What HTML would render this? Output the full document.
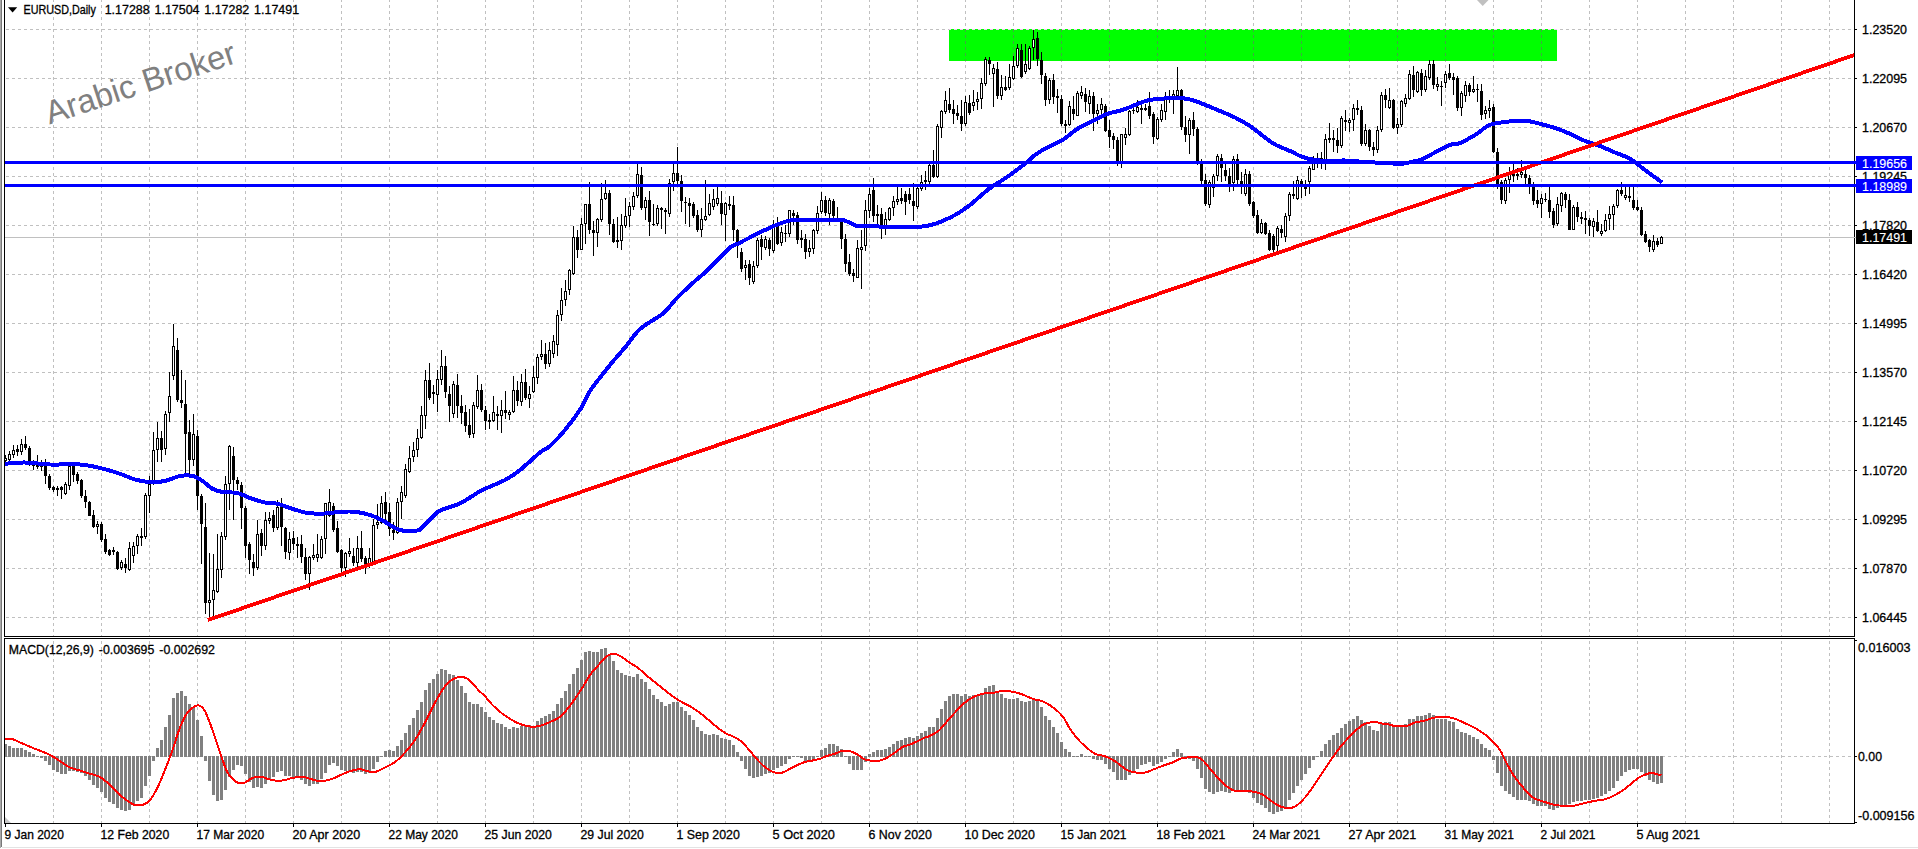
<!DOCTYPE html>
<html><head><meta charset="utf-8"><title>EURUSD Daily</title>
<style>html,body{margin:0;padding:0;background:#fff;overflow:hidden}svg text{white-space:pre;stroke:#000;stroke-width:.3px}svg text.w{stroke:#fff;stroke-width:.15px}svg text.wm{stroke:none}</style></head>
<body>
<svg width="1918" height="849" viewBox="0 0 1918 849" style="display:block" font-family="Liberation Sans, Arial, sans-serif" font-size="12.4">
<rect width="1918" height="849" fill="#fff"/>
<rect x="0" y="0" width="1" height="848" fill="#a8a8a8"/>
<rect x="1" y="0" width="1" height="847" fill="#787878"/>
<rect x="2" y="847" width="1916" height="1" fill="#e3e3e3"/>
<rect x="949" y="29" width="608" height="32" fill="#00ff00"/>
<g shape-rendering="crispEdges" stroke="#c0c0c0" stroke-width="1" stroke-dasharray="3 3">
<path d="M53.5 -1V636"/>
<path d="M53.5 641V823"/>
<path d="M101.5 -1V636"/>
<path d="M101.5 641V823"/>
<path d="M149.5 -1V636"/>
<path d="M149.5 641V823"/>
<path d="M197.5 -1V636"/>
<path d="M197.5 641V823"/>
<path d="M245.5 -1V636"/>
<path d="M245.5 641V823"/>
<path d="M293.5 -1V636"/>
<path d="M293.5 641V823"/>
<path d="M341.5 -1V636"/>
<path d="M341.5 641V823"/>
<path d="M389.5 -1V636"/>
<path d="M389.5 641V823"/>
<path d="M437.5 -1V636"/>
<path d="M437.5 641V823"/>
<path d="M485.5 -1V636"/>
<path d="M485.5 641V823"/>
<path d="M533.5 -1V636"/>
<path d="M533.5 641V823"/>
<path d="M581.5 -1V636"/>
<path d="M581.5 641V823"/>
<path d="M629.5 -1V636"/>
<path d="M629.5 641V823"/>
<path d="M677.5 -1V636"/>
<path d="M677.5 641V823"/>
<path d="M725.5 -1V636"/>
<path d="M725.5 641V823"/>
<path d="M773.5 -1V636"/>
<path d="M773.5 641V823"/>
<path d="M821.5 -1V636"/>
<path d="M821.5 641V823"/>
<path d="M869.5 -1V636"/>
<path d="M869.5 641V823"/>
<path d="M917.5 -1V636"/>
<path d="M917.5 641V823"/>
<path d="M965.5 -1V636"/>
<path d="M965.5 641V823"/>
<path d="M1013.5 -1V636"/>
<path d="M1013.5 641V823"/>
<path d="M1061.5 -1V636"/>
<path d="M1061.5 641V823"/>
<path d="M1109.5 -1V636"/>
<path d="M1109.5 641V823"/>
<path d="M1157.5 -1V636"/>
<path d="M1157.5 641V823"/>
<path d="M1205.5 -1V636"/>
<path d="M1205.5 641V823"/>
<path d="M1253.5 -1V636"/>
<path d="M1253.5 641V823"/>
<path d="M1301.5 -1V636"/>
<path d="M1301.5 641V823"/>
<path d="M1349.5 -1V636"/>
<path d="M1349.5 641V823"/>
<path d="M1397.5 -1V636"/>
<path d="M1397.5 641V823"/>
<path d="M1445.5 -1V636"/>
<path d="M1445.5 641V823"/>
<path d="M1493.5 -1V636"/>
<path d="M1493.5 641V823"/>
<path d="M1541.5 -1V636"/>
<path d="M1541.5 641V823"/>
<path d="M1589.5 -1V636"/>
<path d="M1589.5 641V823"/>
<path d="M1637.5 -1V636"/>
<path d="M1637.5 641V823"/>
<path d="M1685.5 -1V636"/>
<path d="M1685.5 641V823"/>
<path d="M1733.5 -1V636"/>
<path d="M1733.5 641V823"/>
<path d="M1781.5 -1V636"/>
<path d="M1781.5 641V823"/>
<path d="M1829.5 -1V636"/>
<path d="M1829.5 641V823"/>
<path d="M6 29.5H1854"/>
<path d="M6 78.5H1854"/>
<path d="M6 127.5H1854"/>
<path d="M6 176.5H1854"/>
<path d="M6 225.5H1854"/>
<path d="M6 274.5H1854"/>
<path d="M6 323.5H1854"/>
<path d="M6 372.5H1854"/>
<path d="M6 421.5H1854"/>
<path d="M6 470.5H1854"/>
<path d="M6 519.5H1854"/>
<path d="M6 568.5H1854"/>
<path d="M6 617.5H1854"/>
<path d="M6 756.5H1854"/>
</g>
<g shape-rendering="crispEdges" stroke="#3fa93f" stroke-width="1" stroke-dasharray="3 3">
<path d="M965.5 29V61"/>
<path d="M1013.5 29V61"/>
<path d="M1061.5 29V61"/>
<path d="M1109.5 29V61"/>
<path d="M1157.5 29V61"/>
<path d="M1205.5 29V61"/>
<path d="M1253.5 29V61"/>
<path d="M1301.5 29V61"/>
<path d="M1349.5 29V61"/>
<path d="M1397.5 29V61"/>
<path d="M1445.5 29V61"/>
<path d="M1493.5 29V61"/>
<path d="M1541.5 29V61"/>
</g>
<path d="M949 29.5H1557" stroke="#f4c8f4" stroke-dasharray="3 3" stroke-dashoffset="1" shape-rendering="crispEdges"/>
<rect x="5" y="237" width="1849" height="1" fill="#c0c0c0"/>
<path d="M1477 0H1488.5L1482.7 6Z" fill="#c0c0c0"/>
<text x="0" y="0" transform="translate(49.5 124.5) rotate(-18.2)" class="wm" font-size="32.8" fill="#808080">Arabic Broker</text>
<g shape-rendering="crispEdges">
<path d="M5.5 455V462M9.5 451V462M13.5 445V458M17.5 445V456M21.5 439V455M25.5 436V450M29.5 446V466M33.5 460V470M37.5 455V469M41.5 460V471M45.5 459V484M49.5 474V490M53.5 486V492M57.5 486V496M61.5 486V499M65.5 482V495M69.5 465V490M73.5 465V482M77.5 472V484M81.5 479V498M85.5 490V508M89.5 501V516M93.5 510V528M97.5 521V534M101.5 522V542M105.5 534V554M109.5 549V556M113.5 547V555M117.5 551V570M121.5 560V570M125.5 558V573M129.5 542V571M133.5 542V563M137.5 534V554M141.5 528V546M145.5 493V539M149.5 476V513M153.5 432V485M157.5 422V462M161.5 431V462M165.5 411V455M169.5 372V422M173.5 324V380M177.5 338V402M181.5 370V408M185.5 380V475M189.5 420V475M193.5 414V466M197.5 430V510M201.5 494V564M205.5 503V614M209.5 553V620M213.5 554V619M217.5 534V593M221.5 532V578M225.5 476V540M229.5 445V510M233.5 447V520M237.5 477V490M241.5 482V529M245.5 506V558M249.5 542V574M253.5 554V576M257.5 520V570M261.5 529V556M265.5 512V550M269.5 512V524M273.5 510V532M277.5 500V530M281.5 498V546M285.5 527V559M289.5 532V560M293.5 531V550M297.5 537V558M301.5 535V563M305.5 548V580M309.5 556V590M313.5 544V560M317.5 534V562M321.5 536V559M325.5 503V554M329.5 489V517M333.5 503V532M337.5 521V553M341.5 549V572M345.5 552V577M349.5 538V557M353.5 548V566M357.5 536V567M361.5 531V562M365.5 556V574M369.5 548V568M373.5 519V565M377.5 504V529M381.5 496V524M385.5 492V520M389.5 503V536M393.5 522V540M397.5 498V534M401.5 486V519M405.5 464V498M409.5 446V473M413.5 442V462M417.5 429V457M421.5 406V439M425.5 370V429M429.5 363V400M433.5 385V404M437.5 370V412M441.5 350V385M445.5 356V398M449.5 386V422M453.5 381V418M457.5 374V418M461.5 395V424M465.5 405V432M469.5 409V438M473.5 402V438M477.5 375V409M481.5 384V412M485.5 406V430M489.5 414V429M493.5 396V422M497.5 406V430M501.5 400V433M505.5 391V419M509.5 410V420M513.5 376V413M517.5 381V406M521.5 374V406M525.5 369V400M529.5 386V408M533.5 366V393M537.5 354V384M541.5 340V360M545.5 343V369M549.5 342V367M553.5 335V358M557.5 310V356M561.5 288V321M565.5 280V306M569.5 269V295M573.5 226V275M577.5 230V258M581.5 218V250M585.5 204V244M589.5 182V234M593.5 221V256M597.5 218V247M601.5 183V222M605.5 180V200M609.5 190V235M613.5 219V243M617.5 217V248M621.5 214V250M625.5 198V228M629.5 202V227M633.5 192V210M637.5 164V198M641.5 167V210M645.5 197V220M649.5 191V236M653.5 204V226M657.5 205V226M661.5 207V229M665.5 208V234M669.5 179V217M673.5 164V191M677.5 147V184M681.5 175V212M685.5 197V224M689.5 198V227M693.5 202V218M697.5 210V232M701.5 208V237M705.5 180V221M709.5 194V216M713.5 189V210M717.5 187V206M721.5 191V225M725.5 202V241M729.5 196V210M733.5 196V241M737.5 229V258M741.5 248V272M745.5 260V280M749.5 260V285M753.5 261V284M757.5 238V268M761.5 235V260M765.5 236V250M769.5 238V256M773.5 220V253M777.5 217V245M781.5 227V246M785.5 225V242M789.5 210V237M793.5 210V225M797.5 212V244M801.5 230V248M805.5 234V259M809.5 240V257M813.5 229V254M817.5 206V234M821.5 192V214M825.5 196V216M829.5 198V225M833.5 199V218M837.5 207V221M841.5 220V249M845.5 234V272M849.5 254V276M853.5 269V282M857.5 240V278M861.5 230V289M865.5 200V251M869.5 188V218M873.5 178V222M877.5 205V226M881.5 208V239M885.5 212V235M889.5 207V221M893.5 196V216M897.5 186V205M901.5 188V204M905.5 191V215M909.5 188V204M913.5 183V221M917.5 187V209M921.5 175V191M925.5 171V190M929.5 164V184M933.5 150V178M937.5 124V178M941.5 110V138M945.5 91V114M949.5 88V113M953.5 100V124M957.5 105V120M961.5 100V131M965.5 96V126M969.5 95V115M973.5 90V111M977.5 92V110M981.5 78V109M985.5 57V86M989.5 57V75M993.5 64V107M997.5 62V99M1001.5 75V100M1005.5 76V91M1009.5 64V90M1013.5 56V80M1017.5 44V68M1021.5 44V78M1025.5 44V74M1029.5 46V70M1033.5 30V60M1037.5 32V66M1041.5 52V84M1045.5 73V106M1049.5 78V104M1053.5 74V104M1057.5 89V113M1061.5 95V126M1065.5 120V133M1069.5 101V126M1073.5 96V120M1077.5 91V116M1081.5 86V99M1085.5 88V112M1089.5 90V114M1093.5 92V131M1097.5 104V124M1101.5 98V115M1105.5 104V132M1109.5 120V148M1113.5 133V149M1117.5 137V166M1121.5 134V168M1125.5 128V145M1129.5 110V136M1133.5 108V114M1137.5 100V113M1141.5 104V124M1145.5 104V111M1149.5 92V119M1153.5 112V144M1157.5 117V140M1161.5 104V122M1165.5 92V120M1169.5 90V103M1173.5 90V114M1177.5 67V97M1181.5 89V130M1185.5 116V142M1189.5 118V154M1193.5 112V136M1197.5 127V165M1201.5 159V184M1205.5 174V206M1209.5 180V208M1213.5 174V197M1217.5 154V181M1221.5 154V182M1225.5 164V181M1229.5 168V192M1233.5 156V191M1237.5 154V184M1241.5 172V194M1245.5 169V196M1249.5 171V206M1253.5 201V218M1257.5 210V234M1261.5 219V234M1265.5 222V235M1269.5 230V251M1273.5 234V252M1277.5 226V251M1281.5 225V238M1285.5 213V242M1289.5 192V221M1293.5 181V199M1297.5 176V200M1301.5 179V198M1305.5 180V196M1309.5 166V194M1313.5 156V170M1317.5 153V168M1321.5 152V169M1325.5 134V170M1329.5 123V143M1333.5 130V152M1337.5 128V153M1341.5 116V148M1345.5 110V131M1349.5 118V132M1353.5 104V131M1357.5 100V115M1361.5 106V146M1365.5 124V146M1369.5 129V151M1373.5 142V156M1377.5 126V153M1381.5 92V132M1385.5 89V108M1389.5 88V109M1393.5 99V129M1397.5 118V134M1401.5 100V127M1405.5 94V107M1409.5 70V100M1413.5 66V97M1417.5 71V93M1421.5 69V96M1425.5 70V92M1429.5 60V80M1433.5 60V89M1437.5 77V91M1441.5 81V106M1445.5 71V88M1449.5 64V80M1453.5 73V95M1457.5 76V111M1461.5 91V116M1465.5 81V102M1469.5 83V96M1473.5 76V93M1477.5 84V102M1481.5 84V120M1485.5 106V119M1489.5 100V118M1493.5 104V153M1497.5 148V189M1501.5 180V204M1505.5 178V204M1509.5 167V193M1513.5 164V182M1517.5 168V180M1521.5 160V178M1525.5 167V184M1529.5 175V194M1533.5 182V205M1537.5 190V208M1541.5 194V218M1545.5 193V202M1549.5 186V218M1553.5 208V228M1557.5 197V226M1561.5 192V212M1565.5 192V208M1569.5 194V230M1573.5 205V230M1577.5 202V222M1581.5 212V224M1585.5 211V234M1589.5 218V236M1593.5 218V237M1597.5 210V232M1601.5 224V236M1605.5 214V232M1609.5 206V230M1613.5 204V230M1617.5 189V208M1621.5 182V196M1625.5 186V200M1629.5 187V202M1633.5 187V210M1637.5 200V211M1641.5 207V236M1645.5 231V243M1649.5 239V252M1653.5 235V252M1657.5 238V247M1661.5 236V244" stroke="#000" stroke-width="1" fill="none"/>
<path d="M16 449h3v3h-3zM24 444h3v4h-3zM28 448h3v13h-3zM32 464h3v2h-3zM36 463h3v4h-3zM40 465h3v2h-3zM44 466h3v10h-3zM48 476h3v12h-3zM52 487h3v3h-3zM56 488h3v2h-3zM60 487h3v3h-3zM72 466h3v9h-3zM76 474h3v7h-3zM80 480h3v16h-3zM84 496h3v6h-3zM88 502h3v14h-3zM92 515h3v12h-3zM100 524h3v16h-3zM104 539h3v13h-3zM108 550h3v5h-3zM112 550h3v2h-3zM116 552h3v17h-3zM124 564h3v4h-3zM140 536h3v2h-3zM160 438h3v12h-3zM176 350h3v50h-3zM180 400h3v3h-3zM184 404h3v30h-3zM188 432h3v28h-3zM196 436h3v60h-3zM200 496h3v28h-3zM204 527h3v76h-3zM232 456h3v24h-3zM236 480h3v4h-3zM240 485h3v23h-3zM244 508h3v38h-3zM248 544h3v16h-3zM252 562h3v6h-3zM260 533h3v13h-3zM272 515h3v13h-3zM280 506h3v21h-3zM284 528h3v24h-3zM292 538h3v6h-3zM296 544h3v2h-3zM300 544h3v13h-3zM304 557h3v17h-3zM332 506h3v24h-3zM336 528h3v24h-3zM340 550h3v18h-3zM352 556h3v7h-3zM360 548h3v11h-3zM364 558h3v6h-3zM384 502h3v12h-3zM388 512h3v17h-3zM392 530h3v3h-3zM428 380h3v18h-3zM432 392h3v2h-3zM444 366h3v26h-3zM448 394h3v12h-3zM456 385h3v21h-3zM460 406h3v7h-3zM464 412h3v14h-3zM468 425h3v10h-3zM480 390h3v20h-3zM484 410h3v11h-3zM488 420h3v2h-3zM496 414h3v2h-3zM504 410h3v3h-3zM516 390h3v11h-3zM524 382h3v16h-3zM544 354h3v10h-3zM576 237h3v13h-3zM588 204h3v26h-3zM592 230h3v3h-3zM608 193h3v31h-3zM612 224h3v18h-3zM616 240h3v2h-3zM640 175h3v33h-3zM648 200h3v22h-3zM652 224h3v1h-3zM660 208h3v2h-3zM664 210h3v2h-3zM676 173h3v8h-3zM680 181h3v20h-3zM684 202h3v1h-3zM688 203h3v3h-3zM692 204h3v12h-3zM696 215h3v15h-3zM720 203h3v11h-3zM728 204h3v2h-3zM732 205h3v25h-3zM736 230h3v16h-3zM740 252h3v17h-3zM748 264h3v14h-3zM760 239h3v8h-3zM768 240h3v9h-3zM776 226h3v18h-3zM784 233h3v1h-3zM792 213h3v3h-3zM796 215h3v25h-3zM800 238h3v2h-3zM804 239h3v13h-3zM824 200h3v13h-3zM832 201h3v15h-3zM836 218h3v2h-3zM840 222h3v17h-3zM844 239h3v25h-3zM848 262h3v12h-3zM852 273h3v3h-3zM872 190h3v26h-3zM876 214h3v2h-3zM880 214h3v13h-3zM900 198h3v3h-3zM904 194h3v8h-3zM908 194h3v6h-3zM912 201h3v5h-3zM924 180h3v2h-3zM932 165h3v12h-3zM948 104h3v6h-3zM952 109h3v5h-3zM956 113h3v3h-3zM960 116h3v8h-3zM968 103h3v10h-3zM988 60h3v4h-3zM996 69h3v27h-3zM1004 87h3v3h-3zM1020 50h3v27h-3zM1036 38h3v21h-3zM1040 60h3v15h-3zM1044 76h3v24h-3zM1052 80h3v17h-3zM1056 96h3v2h-3zM1060 99h3v25h-3zM1064 124h3v2h-3zM1072 109h3v5h-3zM1084 94h3v8h-3zM1092 96h3v18h-3zM1104 106h3v25h-3zM1108 130h3v7h-3zM1112 136h3v4h-3zM1116 140h3v24h-3zM1132 110h3v1h-3zM1140 108h3v2h-3zM1144 108h3v2h-3zM1148 106h3v10h-3zM1152 114h3v23h-3zM1180 90h3v37h-3zM1184 127h3v8h-3zM1192 120h3v9h-3zM1196 129h3v33h-3zM1200 161h3v20h-3zM1204 180h3v24h-3zM1220 158h3v10h-3zM1224 170h3v6h-3zM1228 176h3v8h-3zM1236 159h3v21h-3zM1240 181h3v3h-3zM1248 174h3v30h-3zM1252 202h3v14h-3zM1256 215h3v18h-3zM1264 223h3v11h-3zM1268 233h3v17h-3zM1272 236h3v14h-3zM1280 229h3v4h-3zM1292 194h3v2h-3zM1300 181h3v3h-3zM1316 161h3v1h-3zM1320 158h3v2h-3zM1328 138h3v2h-3zM1332 138h3v2h-3zM1336 140h3v6h-3zM1344 120h3v2h-3zM1356 108h3v2h-3zM1360 110h3v34h-3zM1368 130h3v17h-3zM1372 147h3v3h-3zM1384 95h3v5h-3zM1392 100h3v28h-3zM1412 75h3v15h-3zM1420 73h3v17h-3zM1432 64h3v21h-3zM1440 86h3v1h-3zM1448 73h3v5h-3zM1452 77h3v3h-3zM1456 78h3v30h-3zM1468 85h3v7h-3zM1476 89h3v1h-3zM1480 91h3v24h-3zM1492 107h3v45h-3zM1496 152h3v32h-3zM1500 182h3v18h-3zM1512 174h3v2h-3zM1524 174h3v4h-3zM1528 178h3v6h-3zM1532 184h3v17h-3zM1536 200h3v4h-3zM1544 199h3v1h-3zM1548 200h3v12h-3zM1552 211h3v14h-3zM1564 194h3v6h-3zM1568 200h3v30h-3zM1576 207h3v10h-3zM1580 217h3v2h-3zM1584 218h3v2h-3zM1588 220h3v6h-3zM1596 222h3v9h-3zM1620 190h3v4h-3zM1628 196h3v2h-3zM1632 200h3v8h-3zM1636 207h3v3h-3zM1640 210h3v25h-3zM1644 234h3v8h-3zM1648 240h3v7h-3zM1656 241h3v4h-3z" fill="#000"/>
<path d="M4.5 458.5h2v2h-2zM8.5 454.5h2v5h-2zM12.5 450.5h2v4h-2zM20.5 444.5h2v7h-2zM64.5 484.5h2v9h-2zM68.5 466.5h2v19h-2zM96.5 524.5h2v2h-2zM120.5 562.5h2v5h-2zM128.5 548.5h2v21h-2zM132.5 546.5h2v9h-2zM136.5 536.5h2v9h-2zM144.5 495.5h2v41h-2zM148.5 484.5h2v11h-2zM152.5 450.5h2v31h-2zM156.5 438.5h2v11h-2zM164.5 414.5h2v34h-2zM168.5 396.5h2v16h-2zM172.5 346.5h2v29h-2zM192.5 434.5h2v25h-2zM208.5 600.5h2v2h-2zM212.5 590.5h2v9h-2zM216.5 569.5h2v22h-2zM220.5 536.5h2v33h-2zM224.5 484.5h2v52h-2zM228.5 446.5h2v37h-2zM256.5 534.5h2v33h-2zM264.5 520.5h2v25h-2zM268.5 518.5h2v2h-2zM276.5 507.5h2v20h-2zM288.5 539.5h2v13h-2zM308.5 557.5h2v16h-2zM312.5 555.5h2v2h-2zM316.5 554.5h2v3h-2zM320.5 539.5h2v18h-2zM324.5 503.5h2v35h-2zM328.5 502.5h2v13h-2zM344.5 553.5h2v14h-2zM348.5 551.5h2v2h-2zM356.5 548.5h2v14h-2zM368.5 558.5h2v6h-2zM372.5 525.5h2v38h-2zM376.5 522.5h2v2h-2zM380.5 503.5h2v19h-2zM396.5 502.5h2v30h-2zM400.5 492.5h2v9h-2zM404.5 469.5h2v26h-2zM408.5 458.5h2v13h-2zM412.5 450.5h2v6h-2zM416.5 438.5h2v11h-2zM420.5 415.5h2v22h-2zM424.5 380.5h2v35h-2zM436.5 379.5h2v15h-2zM440.5 366.5h2v13h-2zM452.5 384.5h2v29h-2zM472.5 405.5h2v28h-2zM476.5 390.5h2v16h-2zM492.5 412.5h2v8h-2zM500.5 410.5h2v5h-2zM508.5 412.5h2v2h-2zM512.5 390.5h2v21h-2zM520.5 382.5h2v19h-2zM528.5 394.5h2v4h-2zM532.5 377.5h2v14h-2zM536.5 357.5h2v20h-2zM540.5 354.5h2v2h-2zM548.5 350.5h2v13h-2zM552.5 341.5h2v12h-2zM556.5 315.5h2v29h-2zM560.5 300.5h2v14h-2zM564.5 291.5h2v8h-2zM568.5 270.5h2v19h-2zM572.5 237.5h2v36h-2zM580.5 224.5h2v25h-2zM584.5 204.5h2v19h-2zM596.5 219.5h2v13h-2zM600.5 199.5h2v20h-2zM604.5 193.5h2v5h-2zM620.5 225.5h2v15h-2zM624.5 216.5h2v9h-2zM628.5 206.5h2v9h-2zM632.5 196.5h2v10h-2zM636.5 174.5h2v21h-2zM644.5 200.5h2v7h-2zM656.5 208.5h2v15h-2zM668.5 183.5h2v30h-2zM672.5 173.5h2v8h-2zM700.5 219.5h2v10h-2zM704.5 216.5h2v3h-2zM708.5 203.5h2v11h-2zM712.5 199.5h2v7h-2zM716.5 198.5h2v5h-2zM724.5 203.5h2v11h-2zM744.5 265.5h2v2h-2zM752.5 266.5h2v15h-2zM756.5 240.5h2v25h-2zM764.5 239.5h2v8h-2zM772.5 226.5h2v24h-2zM780.5 232.5h2v10h-2zM788.5 210.5h2v23h-2zM808.5 248.5h2v3h-2zM812.5 230.5h2v18h-2zM816.5 213.5h2v17h-2zM820.5 200.5h2v11h-2zM828.5 200.5h2v13h-2zM856.5 248.5h2v29h-2zM860.5 247.5h2v2h-2zM864.5 210.5h2v35h-2zM868.5 194.5h2v16h-2zM884.5 219.5h2v6h-2zM888.5 208.5h2v11h-2zM892.5 201.5h2v6h-2zM896.5 199.5h2v2h-2zM916.5 188.5h2v18h-2zM920.5 182.5h2v6h-2zM928.5 165.5h2v16h-2zM936.5 126.5h2v50h-2zM940.5 111.5h2v16h-2zM944.5 100.5h2v11h-2zM964.5 102.5h2v21h-2zM972.5 102.5h2v3h-2zM976.5 99.5h2v2h-2zM980.5 83.5h2v15h-2zM984.5 59.5h2v24h-2zM992.5 68.5h2v5h-2zM1000.5 87.5h2v8h-2zM1008.5 77.5h2v10h-2zM1012.5 66.5h2v12h-2zM1016.5 48.5h2v17h-2zM1024.5 64.5h2v7h-2zM1028.5 48.5h2v20h-2zM1032.5 39.5h2v8h-2zM1048.5 80.5h2v19h-2zM1068.5 106.5h2v18h-2zM1076.5 93.5h2v22h-2zM1080.5 92.5h2v3h-2zM1088.5 96.5h2v7h-2zM1096.5 110.5h2v3h-2zM1100.5 104.5h2v5h-2zM1120.5 134.5h2v29h-2zM1124.5 134.5h2v3h-2zM1128.5 111.5h2v23h-2zM1136.5 107.5h2v4h-2zM1156.5 119.5h2v19h-2zM1160.5 110.5h2v9h-2zM1164.5 96.5h2v15h-2zM1168.5 99.5h2v0h-2zM1172.5 94.5h2v2h-2zM1176.5 90.5h2v5h-2zM1188.5 120.5h2v14h-2zM1208.5 182.5h2v22h-2zM1212.5 176.5h2v11h-2zM1216.5 156.5h2v19h-2zM1232.5 159.5h2v23h-2zM1244.5 174.5h2v19h-2zM1260.5 223.5h2v9h-2zM1276.5 228.5h2v17h-2zM1284.5 216.5h2v20h-2zM1288.5 194.5h2v21h-2zM1296.5 180.5h2v18h-2zM1304.5 187.5h2v1h-2zM1308.5 168.5h2v13h-2zM1312.5 160.5h2v9h-2zM1324.5 139.5h2v20h-2zM1340.5 118.5h2v27h-2zM1348.5 120.5h2v2h-2zM1352.5 108.5h2v11h-2zM1364.5 130.5h2v13h-2zM1376.5 130.5h2v19h-2zM1380.5 95.5h2v34h-2zM1388.5 100.5h2v7h-2zM1396.5 124.5h2v3h-2zM1400.5 101.5h2v23h-2zM1404.5 98.5h2v5h-2zM1408.5 74.5h2v24h-2zM1416.5 72.5h2v19h-2zM1424.5 76.5h2v13h-2zM1428.5 64.5h2v13h-2zM1436.5 84.5h2v2h-2zM1444.5 74.5h2v8h-2zM1460.5 93.5h2v14h-2zM1464.5 85.5h2v10h-2zM1472.5 89.5h2v2h-2zM1484.5 110.5h2v3h-2zM1488.5 108.5h2v2h-2zM1504.5 180.5h2v20h-2zM1508.5 174.5h2v5h-2zM1516.5 174.5h2v1h-2zM1520.5 172.5h2v2h-2zM1540.5 198.5h2v5h-2zM1556.5 204.5h2v19h-2zM1560.5 193.5h2v12h-2zM1572.5 207.5h2v22h-2zM1592.5 221.5h2v5h-2zM1600.5 231.5h2v2h-2zM1604.5 220.5h2v10h-2zM1608.5 214.5h2v4h-2zM1612.5 206.5h2v8h-2zM1616.5 190.5h2v15h-2zM1624.5 195.5h2v2h-2zM1652.5 241.5h2v8h-2zM1660.5 237.5h2v6h-2z" fill="#fff" stroke="#000" stroke-width="1"/>
</g>
<path d="M5.0 463.8 C8.3 463.5 17.5 462.4 25.0 462.5 C32.5 462.6 40.8 464.2 50.0 464.5 C59.2 464.8 71.7 463.9 80.0 464.5 C88.3 465.1 93.3 466.5 100.0 468.0 C106.7 469.5 114.2 471.8 120.0 473.8 C125.8 475.7 130.0 478.1 135.0 479.5 C140.0 480.9 145.0 481.8 150.0 482.0 C155.0 482.2 160.0 482.0 165.0 481.0 C170.0 480.0 175.4 476.8 180.0 476.0 C184.6 475.2 188.8 475.2 192.5 476.0 C196.2 476.8 199.2 478.9 202.5 481.0 C205.8 483.1 209.2 486.9 212.5 488.8 C215.8 490.6 218.3 491.3 222.5 492.0 C226.7 492.7 232.9 492.0 237.5 493.0 C242.1 494.0 245.4 496.4 250.0 498.0 C254.6 499.6 260.4 501.5 265.0 502.5 C269.6 503.5 273.3 502.8 277.5 503.8 C281.7 504.7 285.0 506.5 290.0 508.0 C295.0 509.5 301.7 512.1 307.5 513.0 C313.3 513.9 319.6 513.7 325.0 513.5 C330.4 513.3 335.0 512.0 340.0 511.8 C345.0 511.5 350.0 511.2 355.0 511.8 C360.0 512.3 365.4 513.5 370.0 515.0 C374.6 516.5 378.3 518.3 382.5 520.5 C386.7 522.7 391.7 526.3 395.0 528.0 C398.3 529.7 398.8 530.1 402.5 530.5 C406.2 530.9 414.2 531.1 417.5 530.5 C420.8 529.9 420.4 528.8 422.5 527.0 C424.6 525.2 427.9 521.6 430.0 519.5 C432.1 517.4 433.3 516.0 435.0 514.5 C436.7 513.0 437.5 511.8 440.0 510.5 C442.5 509.2 446.5 508.2 450.0 507.0 C453.5 505.8 457.7 504.6 461.0 503.0 C464.3 501.4 466.4 499.7 470.0 497.5 C473.6 495.3 476.7 492.9 482.5 490.0 C488.3 487.1 498.8 483.3 505.0 480.0 C511.2 476.7 514.2 474.6 520.0 470.0 C525.8 465.4 535.0 456.5 540.0 452.5 C545.0 448.5 545.8 449.8 550.0 446.0 C554.2 442.2 559.8 436.4 565.0 430.0 C570.2 423.6 577.3 414.0 581.5 407.5 C585.7 401.0 585.2 398.1 590.0 391.0 C594.8 383.9 604.2 372.2 610.0 365.0 C615.8 357.8 620.0 353.5 625.0 347.5 C630.0 341.5 633.8 334.6 640.0 329.0 C646.2 323.4 656.2 319.0 662.5 313.8 C668.8 308.5 672.1 303.0 677.5 297.5 C682.9 292.0 690.4 285.2 695.0 281.0 C699.6 276.8 700.8 276.4 705.0 272.5 C709.2 268.6 715.8 261.7 720.0 257.5 C724.2 253.3 727.1 249.8 730.0 247.5 C732.9 245.2 734.2 245.4 737.5 243.8 C740.8 242.1 745.4 239.8 750.0 237.5 C754.6 235.2 760.4 232.2 765.0 230.0 C769.6 227.8 773.3 226.1 777.5 224.5 C781.7 222.9 785.4 221.2 790.0 220.5 C794.6 219.8 798.3 220.1 805.0 220.0 C811.7 219.9 823.8 220.0 830.0 220.0 C836.2 220.0 838.3 219.2 842.5 220.0 C846.7 220.8 851.7 224.0 855.0 225.0 C858.3 226.0 852.5 225.7 862.5 226.0 C872.5 226.3 902.9 227.4 915.0 227.0 C927.1 226.6 928.3 225.8 935.0 223.8 C941.7 221.8 949.2 218.1 955.0 215.0 C960.8 211.9 964.6 209.2 970.0 205.0 C975.4 200.8 982.1 194.2 987.5 190.0 C992.9 185.8 998.8 182.5 1002.5 180.0 C1006.2 177.5 1006.2 177.7 1010.0 175.0 C1013.8 172.3 1020.8 167.1 1025.0 163.8 C1029.2 160.4 1031.7 157.5 1035.0 155.0 C1038.3 152.5 1040.4 151.2 1045.0 148.8 C1049.6 146.2 1057.1 143.3 1062.5 140.0 C1067.9 136.7 1072.1 132.1 1077.5 128.8 C1082.9 125.4 1090.0 122.5 1095.0 120.0 C1100.0 117.5 1102.9 115.4 1107.5 113.8 C1112.1 112.1 1117.9 111.5 1122.5 110.0 C1127.1 108.5 1130.8 106.6 1135.0 105.0 C1139.2 103.4 1143.3 101.5 1147.5 100.5 C1151.7 99.5 1155.0 99.2 1160.0 98.8 C1165.0 98.3 1172.5 97.9 1177.5 98.0 C1182.5 98.1 1185.8 98.5 1190.0 99.5 C1194.2 100.5 1197.5 101.8 1202.5 103.8 C1207.5 105.7 1214.6 108.7 1220.0 111.0 C1225.4 113.3 1230.0 115.0 1235.0 117.5 C1240.0 120.0 1245.0 122.7 1250.0 126.0 C1255.0 129.3 1260.8 134.4 1265.0 137.5 C1269.2 140.6 1270.8 142.2 1275.0 144.5 C1279.2 146.8 1285.4 148.9 1290.0 151.0 C1294.6 153.1 1298.3 155.5 1302.5 157.0 C1306.7 158.5 1310.4 159.3 1315.0 160.0 C1319.6 160.7 1325.0 160.9 1330.0 161.0 C1335.0 161.1 1339.2 160.3 1345.0 160.5 C1350.8 160.7 1358.3 161.6 1365.0 162.0 C1371.7 162.4 1378.8 162.7 1385.0 163.0 C1391.2 163.3 1397.5 164.1 1402.5 163.8 C1407.5 163.4 1412.1 161.6 1415.0 161.0 C1417.9 160.4 1416.7 161.4 1420.0 160.0 C1423.3 158.6 1430.0 155.0 1435.0 152.5 C1440.0 150.0 1445.8 146.6 1450.0 145.0 C1454.2 143.4 1455.8 144.7 1460.0 143.0 C1464.2 141.3 1470.4 137.8 1475.0 135.0 C1479.6 132.2 1483.8 128.0 1487.5 126.0 C1491.2 124.0 1492.9 123.8 1497.5 123.0 C1502.1 122.2 1510.0 121.3 1515.0 121.0 C1520.0 120.7 1523.3 120.5 1527.5 121.0 C1531.7 121.5 1535.4 122.6 1540.0 123.8 C1544.6 124.9 1550.0 126.3 1555.0 128.0 C1560.0 129.7 1565.4 131.8 1570.0 133.8 C1574.6 135.8 1577.5 138.0 1582.5 140.0 C1587.5 142.0 1594.6 143.9 1600.0 146.0 C1605.4 148.1 1610.0 150.4 1615.0 152.5 C1620.0 154.6 1625.0 155.8 1630.0 158.8 C1635.0 161.7 1639.7 166.0 1645.0 170.0 C1650.3 174.0 1659.2 180.4 1662.0 182.5" fill="none" stroke="#0000ff" stroke-width="4" stroke-linejoin="round" shape-rendering="crispEdges"/>
<path d="M208 620L1854.5 55" stroke="#ff0000" stroke-width="3.8" shape-rendering="crispEdges"/>
<rect x="5" y="161" width="1851" height="3" fill="#0000ff"/>
<rect x="5" y="184" width="1851" height="3" fill="#0000ff"/>
<g shape-rendering="crispEdges">
<path d="M4 744h3v13h-3zM8 746h3v11h-3zM12 748h3v9h-3zM16 748h3v9h-3zM20 748h3v9h-3zM24 750h3v7h-3zM28 752h3v5h-3zM32 754h3v3h-3zM36 756h3v1h-3zM40 756h3v2h-3zM44 756h3v5h-3zM48 756h3v9h-3zM52 756h3v14h-3zM56 756h3v16h-3zM60 756h3v18h-3zM64 756h3v18h-3zM68 756h3v15h-3zM72 756h3v15h-3zM76 756h3v16h-3zM80 756h3v17h-3zM84 756h3v20h-3zM88 756h3v24h-3zM92 756h3v29h-3zM96 756h3v32h-3zM100 756h3v36h-3zM104 756h3v42h-3zM108 756h3v46h-3zM112 756h3v48h-3zM116 756h3v52h-3zM120 756h3v54h-3zM124 756h3v55h-3zM128 756h3v54h-3zM132 756h3v49h-3zM136 756h3v45h-3zM140 756h3v42h-3zM144 756h3v30h-3zM148 756h3v20h-3zM152 756h3v5h-3zM156 748h3v9h-3zM160 740h3v17h-3zM164 727h3v30h-3zM168 715h3v42h-3zM172 698h3v59h-3zM176 693h3v64h-3zM180 691h3v66h-3zM184 696h3v61h-3zM188 704h3v53h-3zM192 708h3v49h-3zM196 720h3v37h-3zM200 736h3v21h-3zM204 756h3v5h-3zM208 756h3v25h-3zM212 756h3v39h-3zM216 756h3v45h-3zM220 756h3v44h-3zM224 756h3v34h-3zM228 756h3v21h-3zM232 756h3v14h-3zM236 756h3v9h-3zM240 756h3v10h-3zM244 756h3v18h-3zM248 756h3v26h-3zM252 756h3v32h-3zM256 756h3v31h-3zM260 756h3v32h-3zM264 756h3v28h-3zM268 756h3v24h-3zM272 756h3v21h-3zM276 756h3v16h-3zM280 756h3v15h-3zM284 756h3v20h-3zM288 756h3v20h-3zM292 756h3v21h-3zM296 756h3v22h-3zM300 756h3v24h-3zM304 756h3v28h-3zM308 756h3v30h-3zM312 756h3v28h-3zM316 756h3v28h-3zM320 756h3v23h-3zM324 756h3v17h-3zM328 756h3v9h-3zM332 756h3v7h-3zM336 756h3v10h-3zM340 756h3v14h-3zM344 756h3v15h-3zM348 756h3v16h-3zM352 756h3v17h-3zM356 756h3v16h-3zM360 756h3v16h-3zM364 756h3v18h-3zM368 756h3v17h-3zM372 756h3v13h-3zM376 756h3v6h-3zM380 756h3v1h-3zM384 751h3v6h-3zM388 750h3v7h-3zM392 751h3v6h-3zM396 746h3v11h-3zM400 740h3v17h-3zM404 733h3v24h-3zM408 725h3v32h-3zM412 718h3v39h-3zM416 710h3v47h-3zM420 702h3v55h-3zM424 690h3v67h-3zM428 683h3v74h-3zM432 679h3v78h-3zM436 674h3v83h-3zM440 669h3v88h-3zM444 670h3v87h-3zM448 674h3v83h-3zM452 675h3v82h-3zM456 680h3v77h-3zM460 686h3v71h-3zM464 693h3v64h-3zM468 702h3v55h-3zM472 704h3v53h-3zM476 704h3v53h-3zM480 707h3v50h-3zM484 712h3v45h-3zM488 717h3v40h-3zM492 720h3v37h-3zM496 723h3v34h-3zM500 724h3v33h-3zM504 727h3v30h-3zM508 729h3v28h-3zM512 727h3v30h-3zM516 728h3v29h-3zM520 726h3v31h-3zM524 725h3v32h-3zM528 725h3v32h-3zM532 726h3v31h-3zM536 721h3v36h-3zM540 718h3v39h-3zM544 716h3v41h-3zM548 714h3v43h-3zM552 711h3v46h-3zM556 704h3v53h-3zM560 698h3v59h-3zM564 691h3v66h-3zM568 684h3v73h-3zM572 674h3v83h-3zM576 668h3v89h-3zM580 660h3v97h-3zM584 652h3v105h-3zM588 651h3v106h-3zM592 652h3v105h-3zM596 652h3v105h-3zM600 649h3v108h-3zM604 648h3v109h-3zM608 654h3v103h-3zM612 661h3v96h-3zM616 670h3v87h-3zM620 673h3v84h-3zM624 675h3v82h-3zM628 676h3v81h-3zM632 677h3v80h-3zM636 674h3v83h-3zM640 679h3v78h-3zM644 682h3v75h-3zM648 689h3v68h-3zM652 695h3v62h-3zM656 699h3v58h-3zM660 702h3v55h-3zM664 706h3v51h-3zM668 704h3v53h-3zM672 702h3v55h-3zM676 702h3v55h-3zM680 707h3v50h-3zM684 711h3v46h-3zM688 715h3v42h-3zM692 720h3v37h-3zM696 727h3v30h-3zM700 731h3v26h-3zM704 734h3v23h-3zM708 735h3v22h-3zM712 734h3v23h-3zM716 735h3v22h-3zM720 738h3v19h-3zM724 739h3v18h-3zM728 740h3v17h-3zM732 745h3v12h-3zM736 752h3v5h-3zM740 756h3v5h-3zM744 756h3v13h-3zM748 756h3v20h-3zM752 756h3v22h-3zM756 756h3v21h-3zM760 756h3v20h-3zM764 756h3v18h-3zM768 756h3v17h-3zM772 756h3v14h-3zM776 756h3v12h-3zM780 756h3v10h-3zM784 756h3v8h-3zM788 756h3v3h-3zM792 756h3v1h-3zM796 756h3v1h-3zM800 756h3v2h-3zM804 756h3v5h-3zM808 756h3v5h-3zM812 756h3v3h-3zM816 756h3v1h-3zM820 750h3v7h-3zM824 748h3v9h-3zM828 744h3v13h-3zM832 744h3v13h-3zM836 746h3v11h-3zM840 749h3v8h-3zM844 756h3v1h-3zM848 756h3v8h-3zM852 756h3v14h-3zM856 756h3v14h-3zM860 756h3v14h-3zM864 756h3v6h-3zM868 754h3v3h-3zM872 752h3v5h-3zM876 750h3v7h-3zM880 750h3v7h-3zM884 749h3v8h-3zM888 747h3v10h-3zM892 744h3v13h-3zM896 741h3v16h-3zM900 740h3v17h-3zM904 738h3v19h-3zM908 737h3v20h-3zM912 738h3v19h-3zM916 736h3v21h-3zM920 733h3v24h-3zM924 731h3v26h-3zM928 727h3v30h-3zM932 727h3v30h-3zM936 718h3v39h-3zM940 709h3v48h-3zM944 701h3v56h-3zM948 696h3v61h-3zM952 694h3v63h-3zM956 694h3v63h-3zM960 696h3v61h-3zM964 694h3v63h-3zM968 696h3v61h-3zM972 695h3v62h-3zM976 696h3v61h-3zM980 693h3v64h-3zM984 688h3v69h-3zM988 686h3v71h-3zM992 685h3v72h-3zM996 691h3v66h-3zM1000 694h3v63h-3zM1004 698h3v59h-3zM1008 699h3v58h-3zM1012 699h3v58h-3zM1016 698h3v59h-3zM1020 701h3v56h-3zM1024 702h3v55h-3zM1028 701h3v56h-3zM1032 699h3v58h-3zM1036 701h3v56h-3zM1040 707h3v50h-3zM1044 716h3v41h-3zM1048 720h3v37h-3zM1052 727h3v30h-3zM1056 733h3v24h-3zM1060 742h3v15h-3zM1064 749h3v8h-3zM1068 752h3v5h-3zM1072 756h3v1h-3zM1076 756h3v1h-3zM1080 754h3v3h-3zM1084 756h3v1h-3zM1088 756h3v1h-3zM1092 756h3v3h-3zM1096 756h3v4h-3zM1100 756h3v4h-3zM1104 756h3v8h-3zM1108 756h3v13h-3zM1112 756h3v16h-3zM1116 756h3v24h-3zM1120 756h3v24h-3zM1124 756h3v24h-3zM1128 756h3v19h-3zM1132 756h3v15h-3zM1136 756h3v13h-3zM1140 756h3v9h-3zM1144 756h3v8h-3zM1148 756h3v6h-3zM1152 756h3v10h-3zM1156 756h3v8h-3zM1160 756h3v6h-3zM1164 756h3v3h-3zM1168 756h3v1h-3zM1172 752h3v5h-3zM1176 749h3v8h-3zM1180 753h3v4h-3zM1184 756h3v1h-3zM1188 756h3v3h-3zM1192 756h3v5h-3zM1196 756h3v13h-3zM1200 756h3v22h-3zM1204 756h3v33h-3zM1208 756h3v36h-3zM1212 756h3v38h-3zM1216 756h3v36h-3zM1220 756h3v35h-3zM1224 756h3v36h-3zM1228 756h3v37h-3zM1232 756h3v35h-3zM1236 756h3v34h-3zM1240 756h3v35h-3zM1244 756h3v34h-3zM1248 756h3v37h-3zM1252 756h3v42h-3zM1256 756h3v47h-3zM1260 756h3v49h-3zM1264 756h3v52h-3zM1268 756h3v56h-3zM1272 756h3v58h-3zM1276 756h3v56h-3zM1280 756h3v55h-3zM1284 756h3v52h-3zM1288 756h3v44h-3zM1292 756h3v37h-3zM1296 756h3v30h-3zM1300 756h3v24h-3zM1304 756h3v18h-3zM1308 756h3v12h-3zM1312 756h3v4h-3zM1316 756h3v1h-3zM1320 751h3v6h-3zM1324 744h3v13h-3zM1328 740h3v17h-3zM1332 735h3v22h-3zM1336 733h3v24h-3zM1340 728h3v29h-3zM1344 724h3v33h-3zM1348 721h3v36h-3zM1352 719h3v38h-3zM1356 716h3v41h-3zM1360 720h3v37h-3zM1364 722h3v35h-3zM1368 726h3v31h-3zM1372 730h3v27h-3zM1376 731h3v26h-3zM1380 724h3v33h-3zM1384 722h3v35h-3zM1388 722h3v35h-3zM1392 726h3v31h-3zM1396 726h3v31h-3zM1400 726h3v31h-3zM1404 724h3v33h-3zM1408 719h3v38h-3zM1412 719h3v38h-3zM1416 716h3v41h-3zM1420 716h3v41h-3zM1424 715h3v42h-3zM1428 713h3v44h-3zM1432 715h3v42h-3zM1436 719h3v38h-3zM1440 719h3v38h-3zM1444 719h3v38h-3zM1448 721h3v36h-3zM1452 722h3v35h-3zM1456 729h3v28h-3zM1460 732h3v25h-3zM1464 733h3v24h-3zM1468 735h3v22h-3zM1472 737h3v20h-3zM1476 739h3v18h-3zM1480 744h3v13h-3zM1484 748h3v9h-3zM1488 750h3v7h-3zM1492 756h3v4h-3zM1496 756h3v17h-3zM1500 756h3v30h-3zM1504 756h3v35h-3zM1508 756h3v38h-3zM1512 756h3v41h-3zM1516 756h3v44h-3zM1520 756h3v44h-3zM1524 756h3v44h-3zM1528 756h3v45h-3zM1532 756h3v48h-3zM1536 756h3v50h-3zM1540 756h3v50h-3zM1544 756h3v50h-3zM1548 756h3v53h-3zM1552 756h3v54h-3zM1556 756h3v52h-3zM1560 756h3v49h-3zM1564 756h3v49h-3zM1568 756h3v48h-3zM1572 756h3v46h-3zM1576 756h3v45h-3zM1580 756h3v45h-3zM1584 756h3v44h-3zM1588 756h3v44h-3zM1592 756h3v43h-3zM1596 756h3v42h-3zM1600 756h3v40h-3zM1604 756h3v38h-3zM1608 756h3v35h-3zM1612 756h3v32h-3zM1616 756h3v25h-3zM1620 756h3v20h-3zM1624 756h3v16h-3zM1628 756h3v14h-3zM1632 756h3v13h-3zM1636 756h3v13h-3zM1640 756h3v16h-3zM1644 756h3v20h-3zM1648 756h3v24h-3zM1652 756h3v26h-3zM1656 756h3v28h-3zM1660 756h3v27h-3z" fill="#808080"/>
</g>
<path d="M5.0 739.2 C6.2 739.2 10.0 738.7 12.5 739.2 C15.0 739.8 16.2 740.9 20.0 742.5 C23.8 744.1 30.0 746.7 35.0 748.8 C40.0 750.8 45.8 752.9 50.0 755.0 C54.2 757.1 56.7 759.2 60.0 761.2 C63.3 763.3 66.7 766.0 70.0 767.5 C73.3 769.0 76.7 769.5 80.0 770.5 C83.3 771.5 86.7 772.7 90.0 773.8 C93.3 774.8 96.7 775.1 100.0 777.0 C103.3 778.9 106.7 782.0 110.0 785.0 C113.3 788.0 116.7 792.1 120.0 795.0 C123.3 797.9 127.5 800.8 130.0 802.5 C132.5 804.2 132.9 804.6 135.0 805.0 C137.1 805.4 140.0 805.8 142.5 805.0 C145.0 804.2 147.5 802.9 150.0 800.0 C152.5 797.1 155.0 792.5 157.5 787.5 C160.0 782.5 162.5 776.2 165.0 770.0 C167.5 763.8 170.0 757.1 172.5 750.0 C175.0 742.9 177.5 733.8 180.0 727.5 C182.5 721.2 185.0 716.0 187.5 712.5 C190.0 709.0 192.9 707.4 195.0 706.2 C197.1 705.1 198.3 704.9 200.0 705.8 C201.7 706.6 202.9 707.2 205.0 711.2 C207.1 715.3 210.0 723.1 212.5 730.0 C215.0 736.9 217.5 745.4 220.0 752.5 C222.5 759.6 225.0 767.7 227.5 772.5 C230.0 777.3 232.9 779.5 235.0 781.2 C237.1 783.0 238.3 782.8 240.0 783.0 C241.7 783.2 242.9 783.3 245.0 782.5 C247.1 781.7 249.8 779.0 252.5 778.0 C255.2 777.0 258.8 776.6 261.2 776.8 C263.8 776.9 265.2 778.1 267.5 778.8 C269.8 779.4 272.5 780.2 275.0 780.5 C277.5 780.8 279.6 780.9 282.5 780.5 C285.4 780.1 289.2 778.6 292.5 778.0 C295.8 777.4 299.6 776.6 302.5 776.8 C305.4 776.9 307.5 778.1 310.0 778.8 C312.5 779.4 315.0 780.4 317.5 780.8 C320.0 781.1 322.5 781.1 325.0 780.8 C327.5 780.4 329.6 779.8 332.5 778.8 C335.4 777.7 339.6 775.5 342.5 774.2 C345.4 773.0 347.1 772.1 350.0 771.2 C352.9 770.4 357.1 769.2 360.0 769.2 C362.9 769.2 365.0 770.8 367.5 771.2 C370.0 771.7 372.5 772.4 375.0 772.0 C377.5 771.6 379.2 770.4 382.5 768.8 C385.8 767.1 391.2 764.7 395.0 762.0 C398.8 759.3 401.7 756.2 405.0 752.5 C408.3 748.8 411.7 745.0 415.0 740.0 C418.3 735.0 421.7 728.8 425.0 722.5 C428.3 716.2 431.7 708.5 435.0 702.5 C438.3 696.5 442.1 690.1 445.0 686.2 C447.9 682.4 450.0 681.0 452.5 679.5 C455.0 678.0 457.5 677.1 460.0 677.0 C462.5 676.9 465.0 677.2 467.5 678.8 C470.0 680.3 473.0 684.2 475.0 686.2 C477.0 688.3 477.8 689.6 479.5 691.2 C481.2 692.9 482.8 694.0 485.0 696.2 C487.2 698.5 489.6 702.1 492.5 705.0 C495.4 707.9 499.6 711.5 502.5 713.8 C505.4 716.0 507.5 717.2 510.0 718.8 C512.5 720.3 515.0 721.9 517.5 723.0 C520.0 724.1 522.5 724.9 525.0 725.5 C527.5 726.1 530.0 726.7 532.5 726.8 C535.0 726.8 537.1 726.5 540.0 725.8 C542.9 725.0 546.7 723.5 550.0 722.0 C553.3 720.5 557.1 719.2 560.0 717.0 C562.9 714.8 565.0 711.8 567.5 708.8 C570.0 705.7 572.5 702.3 575.0 698.8 C577.5 695.2 580.0 691.5 582.5 687.5 C585.0 683.5 587.5 678.5 590.0 675.0 C592.5 671.5 595.0 669.1 597.5 666.2 C600.0 663.4 602.9 660.0 605.0 658.0 C607.1 656.0 608.1 655.1 610.0 654.5 C611.9 653.9 614.2 653.8 616.2 654.2 C618.3 654.8 620.2 656.0 622.5 657.5 C624.8 659.0 627.5 661.3 630.0 663.0 C632.5 664.7 634.6 665.3 637.5 667.5 C640.4 669.7 643.8 673.1 647.5 676.2 C651.2 679.4 655.8 682.9 660.0 686.2 C664.2 689.6 668.8 693.5 672.5 696.2 C676.2 699.0 679.6 700.8 682.5 702.5 C685.4 704.2 687.1 704.5 690.0 706.2 C692.9 708.0 696.7 710.5 700.0 713.0 C703.3 715.5 707.1 718.8 710.0 721.2 C712.9 723.7 715.0 725.5 717.5 727.5 C720.0 729.5 722.5 731.5 725.0 733.0 C727.5 734.5 730.0 735.0 732.5 736.2 C735.0 737.5 737.5 738.5 740.0 740.5 C742.5 742.5 745.0 745.2 747.5 748.0 C750.0 750.8 752.5 754.2 755.0 757.0 C757.5 759.8 760.0 762.8 762.5 765.0 C765.0 767.2 767.7 769.2 770.0 770.5 C772.3 771.8 774.2 772.4 776.2 772.8 C778.3 773.1 780.2 773.2 782.5 772.5 C784.8 771.8 787.5 770.0 790.0 768.8 C792.5 767.5 795.0 766.1 797.5 765.0 C800.0 763.9 802.5 762.8 805.0 762.0 C807.5 761.2 810.0 761.0 812.5 760.5 C815.0 760.0 817.5 759.5 820.0 758.8 C822.5 758.0 825.0 756.6 827.5 755.8 C830.0 754.9 832.5 754.6 835.0 753.8 C837.5 752.9 840.0 751.2 842.5 750.8 C845.0 750.3 847.5 750.6 850.0 751.2 C852.5 751.9 855.0 753.1 857.5 754.5 C860.0 755.9 862.5 758.5 865.0 759.5 C867.5 760.5 870.0 760.6 872.5 760.8 C875.0 760.9 877.5 761.0 880.0 760.5 C882.5 760.0 885.0 758.8 887.5 757.5 C890.0 756.2 892.5 754.2 895.0 752.5 C897.5 750.8 900.0 748.3 902.5 747.0 C905.0 745.7 907.5 745.5 910.0 744.5 C912.5 743.5 915.8 742.0 917.5 741.2 C919.2 740.5 918.8 740.6 920.0 740.0 C921.2 739.4 923.8 738.0 925.0 737.5 C926.2 737.0 926.2 737.5 927.5 737.0 C928.8 736.5 931.0 735.2 932.5 734.5 C934.0 733.8 935.1 733.2 936.2 732.5 C937.4 731.8 938.0 731.5 939.5 730.0 C941.0 728.5 942.4 726.7 945.0 723.8 C947.6 720.8 951.7 716.0 955.0 712.5 C958.3 709.0 961.7 705.2 965.0 702.5 C968.3 699.8 971.7 697.8 975.0 696.2 C978.3 694.7 981.7 693.9 985.0 693.2 C988.3 692.6 992.1 692.9 995.0 692.5 C997.9 692.1 999.6 690.9 1002.5 690.8 C1005.4 690.6 1009.2 691.1 1012.5 691.8 C1015.8 692.4 1019.2 693.3 1022.5 694.5 C1025.8 695.7 1029.2 697.6 1032.5 698.8 C1035.8 699.9 1039.2 699.9 1042.5 701.2 C1045.8 702.6 1049.2 704.5 1052.5 707.0 C1055.8 709.5 1059.6 712.6 1062.5 716.2 C1065.4 719.9 1067.5 725.0 1070.0 728.8 C1072.5 732.5 1075.0 735.8 1077.5 738.8 C1080.0 741.7 1082.1 743.8 1085.0 746.2 C1087.9 748.8 1091.7 752.1 1095.0 753.8 C1098.3 755.4 1101.7 755.0 1105.0 756.2 C1108.3 757.5 1111.7 759.2 1115.0 761.2 C1118.3 763.3 1122.1 767.0 1125.0 768.8 C1127.9 770.5 1129.2 771.4 1132.5 772.0 C1135.8 772.6 1141.2 773.0 1145.0 772.5 C1148.8 772.0 1151.7 770.0 1155.0 768.8 C1158.3 767.5 1162.1 766.0 1165.0 765.0 C1167.9 764.0 1170.0 763.5 1172.5 762.5 C1175.0 761.5 1177.5 759.6 1180.0 758.8 C1182.5 757.9 1184.8 757.8 1187.5 757.5 C1190.2 757.2 1193.8 756.6 1196.2 757.0 C1198.8 757.4 1200.2 758.0 1202.5 760.0 C1204.8 762.0 1207.1 765.4 1210.0 768.8 C1212.9 772.1 1217.1 777.0 1220.0 780.0 C1222.9 783.0 1225.0 785.2 1227.5 787.0 C1230.0 788.8 1232.1 790.1 1235.0 790.8 C1237.9 791.4 1241.7 790.5 1245.0 790.8 C1248.3 791.0 1252.1 791.4 1255.0 792.0 C1257.9 792.6 1260.0 793.2 1262.5 794.5 C1265.0 795.8 1267.5 798.2 1270.0 800.0 C1272.5 801.8 1275.2 803.8 1277.5 805.0 C1279.8 806.2 1281.2 807.1 1283.8 807.5 C1286.2 807.9 1290.2 807.9 1292.5 807.5 C1294.8 807.1 1295.4 806.7 1297.5 805.0 C1299.6 803.3 1302.5 800.4 1305.0 797.5 C1307.5 794.6 1310.0 791.0 1312.5 787.5 C1315.0 784.0 1317.1 780.6 1320.0 776.2 C1322.9 771.9 1326.7 766.0 1330.0 761.2 C1333.3 756.5 1337.1 751.2 1340.0 747.5 C1342.9 743.8 1345.0 741.5 1347.5 738.8 C1350.0 736.0 1352.5 733.5 1355.0 731.2 C1357.5 729.0 1360.0 726.5 1362.5 725.0 C1365.0 723.5 1367.5 722.9 1370.0 722.5 C1372.5 722.1 1375.8 722.4 1377.5 722.5 C1379.2 722.6 1378.8 723.0 1380.0 723.2 C1381.2 723.5 1383.8 723.6 1385.0 723.8 C1386.2 723.9 1386.2 724.0 1387.5 724.2 C1388.8 724.5 1391.2 725.2 1392.5 725.5 C1393.8 725.8 1393.8 725.7 1395.0 725.8 C1396.2 725.8 1397.4 725.8 1399.5 725.8 C1401.6 725.8 1404.9 726.3 1407.5 725.8 C1410.1 725.2 1412.1 723.4 1415.0 722.5 C1417.9 721.6 1421.7 721.3 1425.0 720.5 C1428.3 719.7 1431.7 718.1 1435.0 717.5 C1438.3 716.9 1441.7 716.5 1445.0 716.8 C1448.3 717.0 1451.7 717.7 1455.0 718.8 C1458.3 719.8 1461.7 721.7 1465.0 723.2 C1468.3 724.8 1471.7 726.1 1475.0 728.0 C1478.3 729.9 1482.1 732.3 1485.0 734.5 C1487.9 736.7 1490.0 738.7 1492.5 741.2 C1495.0 743.8 1497.9 746.9 1500.0 750.0 C1502.1 753.1 1502.9 756.0 1505.0 760.0 C1507.1 764.0 1510.0 769.8 1512.5 773.8 C1515.0 777.7 1517.5 780.6 1520.0 783.8 C1522.5 786.9 1525.0 790.0 1527.5 792.5 C1530.0 795.0 1532.1 797.2 1535.0 798.8 C1537.9 800.3 1541.7 801.0 1545.0 802.0 C1548.3 803.0 1551.7 804.4 1555.0 805.0 C1558.3 805.6 1561.7 805.7 1565.0 805.8 C1568.3 805.8 1571.7 806.0 1575.0 805.5 C1578.3 805.0 1581.7 803.8 1585.0 803.0 C1588.3 802.2 1591.7 801.4 1595.0 800.8 C1598.3 800.1 1601.7 800.2 1605.0 799.2 C1608.3 798.3 1611.7 796.8 1615.0 795.0 C1618.3 793.2 1622.1 790.8 1625.0 788.8 C1627.9 786.7 1630.0 784.5 1632.5 782.5 C1635.0 780.5 1637.5 778.5 1640.0 777.0 C1642.5 775.5 1645.4 774.4 1647.5 773.8 C1649.6 773.1 1650.8 772.9 1652.5 773.0 C1654.2 773.1 1656.0 774.2 1657.5 774.5 C1659.0 774.8 1660.8 774.9 1661.5 775.0" fill="none" stroke="#ff0000" stroke-width="2" stroke-linejoin="round" shape-rendering="crispEdges"/>
<g shape-rendering="crispEdges" fill="#000">
<rect x="4" y="0" width="1" height="637"/>
<rect x="4" y="636" width="1851" height="1"/>
<rect x="1854" y="0" width="1" height="637"/>
<rect x="4" y="638" width="1" height="186"/>
<rect x="4" y="638" width="1851" height="1"/>
<rect x="1854" y="638" width="1" height="186"/>
<rect x="4" y="823" width="1851" height="1"/>
<rect x="1855" y="29" width="2" height="1"/>
<rect x="1855" y="78" width="2" height="1"/>
<rect x="1855" y="127" width="2" height="1"/>
<rect x="1855" y="176" width="2" height="1"/>
<rect x="1855" y="225" width="2" height="1"/>
<rect x="1855" y="274" width="2" height="1"/>
<rect x="1855" y="323" width="2" height="1"/>
<rect x="1855" y="372" width="2" height="1"/>
<rect x="1855" y="421" width="2" height="1"/>
<rect x="1855" y="470" width="2" height="1"/>
<rect x="1855" y="519" width="2" height="1"/>
<rect x="1855" y="568" width="2" height="1"/>
<rect x="1855" y="617" width="2" height="1"/>
<rect x="1855" y="640" width="2" height="1"/>
<rect x="1855" y="756" width="2" height="1"/>
<rect x="1855" y="822" width="2" height="1"/>
<rect x="5" y="824" width="1" height="3"/>
<rect x="101" y="824" width="1" height="3"/>
<rect x="197" y="824" width="1" height="3"/>
<rect x="293" y="824" width="1" height="3"/>
<rect x="389" y="824" width="1" height="3"/>
<rect x="485" y="824" width="1" height="3"/>
<rect x="581" y="824" width="1" height="3"/>
<rect x="677" y="824" width="1" height="3"/>
<rect x="773" y="824" width="1" height="3"/>
<rect x="869" y="824" width="1" height="3"/>
<rect x="965" y="824" width="1" height="3"/>
<rect x="1061" y="824" width="1" height="3"/>
<rect x="1157" y="824" width="1" height="3"/>
<rect x="1253" y="824" width="1" height="3"/>
<rect x="1349" y="824" width="1" height="3"/>
<rect x="1445" y="824" width="1" height="3"/>
<rect x="1541" y="824" width="1" height="3"/>
<rect x="1637" y="824" width="1" height="3"/>
</g>
<rect x="1854" y="161" width="2" height="3" fill="#0000ff"/>
<rect x="1854" y="184" width="2" height="3" fill="#0000ff"/>
<rect x="1854" y="237" width="2" height="1" fill="#c0c0c0"/>
<path d="M5 817V823H11Z" fill="#c8c8c8"/>
<text x="1862" y="33.9" textLength="45" lengthAdjust="spacingAndGlyphs">1.23520</text>
<text x="1862" y="82.9" textLength="45" lengthAdjust="spacingAndGlyphs">1.22095</text>
<text x="1862" y="131.9" textLength="45" lengthAdjust="spacingAndGlyphs">1.20670</text>
<text x="1862" y="180.9" textLength="45" lengthAdjust="spacingAndGlyphs">1.19245</text>
<text x="1862" y="229.9" textLength="45" lengthAdjust="spacingAndGlyphs">1.17820</text>
<text x="1862" y="278.9" textLength="45" lengthAdjust="spacingAndGlyphs">1.16420</text>
<text x="1862" y="327.9" textLength="45" lengthAdjust="spacingAndGlyphs">1.14995</text>
<text x="1862" y="376.9" textLength="45" lengthAdjust="spacingAndGlyphs">1.13570</text>
<text x="1862" y="425.9" textLength="45" lengthAdjust="spacingAndGlyphs">1.12145</text>
<text x="1862" y="474.9" textLength="45" lengthAdjust="spacingAndGlyphs">1.10720</text>
<text x="1862" y="523.9" textLength="45" lengthAdjust="spacingAndGlyphs">1.09295</text>
<text x="1862" y="572.9" textLength="45" lengthAdjust="spacingAndGlyphs">1.07870</text>
<text x="1862" y="621.9" textLength="45" lengthAdjust="spacingAndGlyphs">1.06445</text>
<rect x="1856" y="156" width="56" height="14" fill="#0000ff"/>
<text x="1862" y="167.8" class="w" fill="#fff" textLength="45" lengthAdjust="spacingAndGlyphs">1.19656</text>
<rect x="1856" y="179" width="56" height="14" fill="#0000ff"/>
<text x="1862" y="190.8" class="w" fill="#fff" textLength="45" lengthAdjust="spacingAndGlyphs">1.18989</text>
<rect x="1856" y="230" width="56" height="14" fill="#000"/>
<text x="1862" y="241.8" class="w" fill="#fff" textLength="45" lengthAdjust="spacingAndGlyphs">1.17491</text>
<text x="1858" y="652" textLength="52.5" lengthAdjust="spacingAndGlyphs">0.016003</text>
<text x="1858" y="761" textLength="24" lengthAdjust="spacingAndGlyphs">0.00</text>
<text x="1858" y="820" textLength="56.5" lengthAdjust="spacingAndGlyphs">-0.009156</text>
<path d="M8 7.3H17.2L12.6 12.4Z" fill="#000"/>
<text x="23.6" y="13.7" textLength="72.3" lengthAdjust="spacingAndGlyphs">EURUSD,Daily</text>
<text x="104.7" y="13.7" textLength="45" lengthAdjust="spacingAndGlyphs">1.17288</text>
<text x="154.5" y="13.7" textLength="45" lengthAdjust="spacingAndGlyphs">1.17504</text>
<text x="204.3" y="13.7" textLength="45" lengthAdjust="spacingAndGlyphs">1.17282</text>
<text x="254.1" y="13.7" textLength="45" lengthAdjust="spacingAndGlyphs">1.17491</text>
<text x="8.8" y="653.8" textLength="85" lengthAdjust="spacingAndGlyphs">MACD(12,26,9)</text>
<text x="98.8" y="653.8" textLength="55.5" lengthAdjust="spacingAndGlyphs">-0.003695</text>
<text x="159.3" y="653.8" textLength="55.7" lengthAdjust="spacingAndGlyphs">-0.002692</text>
<text x="4.5" y="839" textLength="59.4" lengthAdjust="spacingAndGlyphs">9 Jan 2020</text>
<text x="100.5" y="839" textLength="68.7" lengthAdjust="spacingAndGlyphs">12 Feb 2020</text>
<text x="196.5" y="839" textLength="67.7" lengthAdjust="spacingAndGlyphs">17 Mar 2020</text>
<text x="292.5" y="839" textLength="67.7" lengthAdjust="spacingAndGlyphs">20 Apr 2020</text>
<text x="388.5" y="839" textLength="69.4" lengthAdjust="spacingAndGlyphs">22 May 2020</text>
<text x="484.5" y="839" textLength="67.4" lengthAdjust="spacingAndGlyphs">25 Jun 2020</text>
<text x="580.5" y="839" textLength="63.4" lengthAdjust="spacingAndGlyphs">29 Jul 2020</text>
<text x="676.5" y="839" textLength="63.4" lengthAdjust="spacingAndGlyphs">1 Sep 2020</text>
<text x="772.5" y="839" textLength="62.4" lengthAdjust="spacingAndGlyphs">5 Oct 2020</text>
<text x="868.5" y="839" textLength="63.4" lengthAdjust="spacingAndGlyphs">6 Nov 2020</text>
<text x="964.5" y="839" textLength="70.4" lengthAdjust="spacingAndGlyphs">10 Dec 2020</text>
<text x="1060.5" y="839" textLength="66.0" lengthAdjust="spacingAndGlyphs">15 Jan 2021</text>
<text x="1156.5" y="839" textLength="68.7" lengthAdjust="spacingAndGlyphs">18 Feb 2021</text>
<text x="1252.5" y="839" textLength="67.7" lengthAdjust="spacingAndGlyphs">24 Mar 2021</text>
<text x="1348.5" y="839" textLength="67.7" lengthAdjust="spacingAndGlyphs">27 Apr 2021</text>
<text x="1444.5" y="839" textLength="69.4" lengthAdjust="spacingAndGlyphs">31 May 2021</text>
<text x="1540.5" y="839" textLength="55.0" lengthAdjust="spacingAndGlyphs">2 Jul 2021</text>
<text x="1636.5" y="839" textLength="63.4" lengthAdjust="spacingAndGlyphs">5 Aug 2021</text>
</svg>
</body></html>
